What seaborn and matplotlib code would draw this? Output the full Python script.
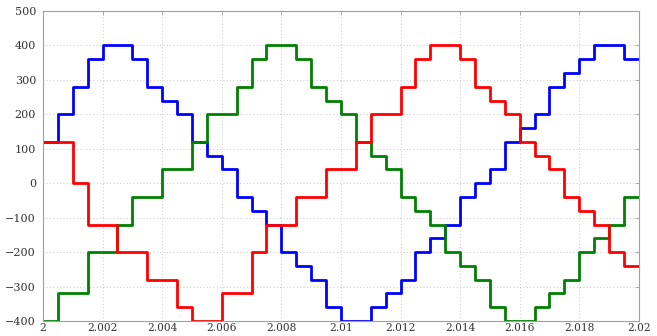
import numpy as np
import pandas as pd
import matplotlib
matplotlib.use("Agg")
import matplotlib.pyplot as plt
import seaborn as sns

# sample grid: one level every 0.5 ms over one 20 ms period
T_START = 2.0
T_STEP = 0.0005

# stepped phase voltages, one value per 0.5 ms interval
PHASE_A = [120, 200, 280, 360, 400, 400, 360, 280, 240, 200,
           120, 80, 40, -40, -80, -120, -200, -240, -280, -360,
           -400, -400, -360, -320, -280, -200, -160, -120, -40, 0,
           40, 120, 160, 200, 280, 320, 360, 400, 400, 360]
PHASE_B = [-400, -320, -320, -200, -200, -120, -40, -40, 40, 40,
           120, 200, 200, 280, 360, 400, 400, 360, 280, 240,
           200, 120, 80, 40, -40, -80, -120, -200, -240, -280,
           -360, -400, -400, -360, -320, -280, -200, -160, -120, -40]
PHASE_C = [120, 120, 0, -120, -120, -200, -200, -280, -280, -360,
           -400, -400, -320, -320, -200, -120, -120, -40, -40, 40,
           40, 120, 200, 200, 280, 360, 400, 400, 360, 280,
           240, 200, 120, 80, 40, -40, -80, -120, -200, -240]

PHASE_NAMES = ["a", "b", "c"]
PHASE_COLORS = ["#0000ff", "#008000", "#ff0000"]

XTICKS = [2.0, 2.002, 2.004, 2.006, 2.008, 2.01, 2.012, 2.014, 2.016, 2.018, 2.02]
XTICK_LABELS = ["2", "2.002", "2.004", "2.006", "2.008", "2.01",
                "2.012", "2.014", "2.016", "2.018", "2.02"]
YTICKS = [-400, -300, -200, -100, 0, 100, 200, 300, 400, 500]

# long table; last level repeated at the end so the final step is drawn
frames = []
for name, levels in zip(PHASE_NAMES, [PHASE_A, PHASE_B, PHASE_C]):
    vals = list(levels) + [levels[-1]]
    t = T_START + T_STEP * np.arange(len(vals))
    frames.append(pd.DataFrame({"t": t, "v": vals, "phase": name}))
df = pd.concat(frames, ignore_index=True)

sns.set_style("white")
plt.rcParams["font.family"] = ["DejaVu Serif"]

fig = plt.figure(figsize=(6.57, 3.36), dpi=100)
ax = fig.add_axes([0.0654, 0.0446, 0.907, 0.9226])

sns.lineplot(
    data=df, x="t", y="v", hue="phase",
    hue_order=PHASE_NAMES, palette=PHASE_COLORS,
    drawstyle="steps-post", estimator=None, sort=False,
    linewidth=2.0, legend=False, ax=ax,
)

ax.set_xlim(2.0, 2.02)
ax.set_ylim(-400, 500)
ax.set_xticks(XTICKS)
ax.set_xticklabels(XTICK_LABELS)
ax.set_yticks(YTICKS)
ax.set_xlabel("")
ax.set_ylabel("")

ax.grid(True, linestyle=(0, (1, 3)), color="#b8b8b8", linewidth=0.6)
for sp in ax.spines.values():
    sp.set_color("#a0a0a0")
    sp.set_linewidth(0.8)
ax.tick_params(axis="both", direction="in", length=3, width=0.6,
               color="#a0a0a0", labelsize=8, labelcolor="#333333",
               top=True, right=True)
ax.tick_params(axis="x", pad=1.5, labelsize=7.6)
ax.tick_params(axis="y", pad=5)

fig.savefig("out.png", dpi=100)
plt.close(fig)
